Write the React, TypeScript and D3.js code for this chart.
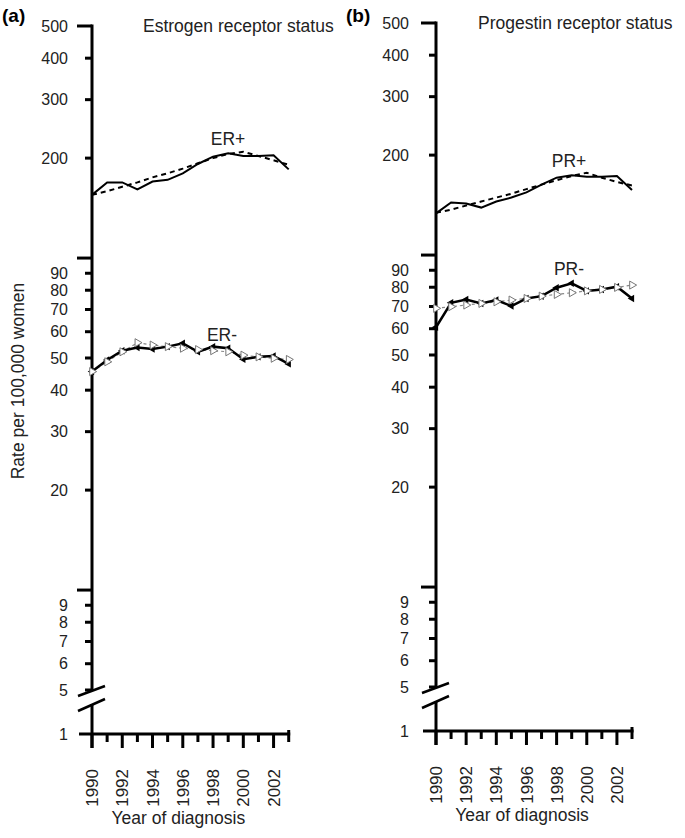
import * as d3 from "d3";

// years on the x axis
const years = [1990, 1991, 1992, 1993, 1994, 1995, 1996, 1997, 1998, 1999, 2000, 2001, 2002, 2003];
const yearLabels = ["1990", "1992", "1994", "1996", "1998", "2000", "2002"];

// y ticks (log scale, broken below 5)
const yTicks = [500, 400, 300, 200, 100, 90, 80, 70, 60, 50, 40, 30, 20, 10, 9, 8, 7, 6, 5];
const yTickLabels = ["500", "400", "300", "200", "", "90", "80", "70", "60", "50", "40", "30", "20", "", "9", "8", "7", "6", "5"];
const majorTicks = [500, 100, 10];

// (a) estrogen receptor status
const erPos = [155, 169, 169, 161, 170, 172, 180, 192, 202, 207, 203, 203, 204, 185];
const erPosFit = [155, 159, 164, 169, 175, 180, 186, 193, 200, 206, 209, 203, 197, 191];
const erNeg = [45.5, 49.3, 52.6, 53.8, 53.2, 54.1, 55.4, 52.2, 54.1, 53.5, 49.6, 50.4, 50.7, 48.0];
const erNegFit = [45.5, 48.7, 52.2, 55.6, 54.7, 54.1, 53.5, 53.0, 52.6, 52.2, 51.0, 50.4, 49.9, 49.5];

// (b) progestin receptor status
const prPos = [133.5, 144, 143, 139, 145, 149, 154.5, 163, 171, 174, 172, 172, 173, 157];
const prPosFit = [134, 137, 141, 145, 149, 153, 158, 163, 168, 173, 177, 171, 166, 162];
const prNeg = [60.6, 71.8, 73.5, 71.5, 73.2, 70.2, 74, 75.2, 79.7, 82.2, 78, 78.8, 80.3, 74];
const prNegFit = [69.1, 69.9, 70.7, 71.5, 72.3, 73.2, 74, 75.2, 76.1, 77, 78, 78.8, 79.9, 81.2];

const font = "'Liberation Sans', Arial, Helvetica, sans-serif";
const fs = 17.5; // titles, labels
const tickFs = 16; // y tick labels
const yearFs = 17;

type PanelProps = {
  tag: string;
  title: string;
  titleX: number;
  x0: number;
  x1: number;
  y500: number;
  yBase: number;
  pos: number[];
  posFit: number[];
  neg: number[];
  negFit: number[];
  posLabel: string;
  negLabel: string;
  posLabelPos: [number, number];
  negLabelPos: [number, number];
  labelGap: number;
};

const Panel = (p: PanelProps) => {
  const x = d3.scaleLinear().domain([1990, 2003]).range([p.x0, p.x1]);
  const y = d3.scaleLog().domain([5, 500]).range([p.y500 + 664, p.y500]);
  const line = d3.line<number>().x((d, i) => x(years[i])).y((d) => y(d));
  const triLeft = d3.symbol(d3.symbolTriangle, 24)();
  const triRight = d3.symbol(d3.symbolTriangle, 28)();
  const y5 = y(5);
  const ax = p.x0;

  return (
    <g>
      <text x={p.tag === "(a)" ? 2 : 346} y={22} fontSize={19} fontWeight="bold" fontFamily={font}>{p.tag}</text>
      <text x={p.titleX} y={p.y500 + 6} fontSize={fs} fontFamily={font} fill="#222">{p.title}</text>

      {/* y axis, with break */}
      <line x1={ax} x2={ax} y1={p.y500 - 1.5} y2={y5 + 1} stroke="#000" strokeWidth={3} />
      <line x1={ax} x2={ax} y1={y5 + 14} y2={p.yBase + 14} stroke="#000" strokeWidth={3} />
      <line x1={ax - 14} x2={ax + 13} y1={y5 + 6} y2={y5 - 4} stroke="#000" strokeWidth={2.5} />
      <line x1={ax - 14} x2={ax + 13} y1={y5 + 21} y2={y5 + 9} stroke="#000" strokeWidth={2.5} />

      {yTicks.map((t, i) => (
        <g key={t}>
          <line x1={ax - (majorTicks.includes(t) ? 15 : 7)} x2={ax} y1={y(t)} y2={y(t)} stroke="#000" strokeWidth={3} />
          {yTickLabels[i] && (
            <text x={ax - p.labelGap} y={y(t)} dy="0.36em" textAnchor="end" fontSize={tickFs} fontFamily={font} fill="#222">
              {yTickLabels[i]}
            </text>
          )}
        </g>
      ))}

      {/* x axis at value 1 */}
      <line x1={ax - 13} x2={x(2003) + 1.5} y1={p.yBase} y2={p.yBase} stroke="#000" strokeWidth={3} />
      <text x={ax - p.labelGap} y={p.yBase} dy="0.36em" textAnchor="end" fontSize={tickFs} fontFamily={font} fill="#222">1</text>
      {years.map((yr, i) => (
        <line key={yr} x1={x(yr)} x2={x(yr)} y1={i === years.length - 1 ? p.yBase - 4 : p.yBase}
          y2={p.yBase + (yr % 2 === 0 ? 14 : 8)} stroke="#000" strokeWidth={3} />
      ))}
      {yearLabels.map((lb) => (
        <text key={lb} transform={`translate(${x(+lb)},${p.yBase + 35}) rotate(-90)`} dy="0.36em" textAnchor="end"
          fontSize={yearFs} fontFamily={font} fill="#222">{lb}</text>
      ))}
      <text x={(p.x0 + p.x1) / 2 - 12} y={p.yBase + 90} textAnchor="middle" fontSize={fs} fontFamily={font} fill="#222">
        Year of diagnosis
      </text>

      {/* positive series */}
      <path d={line(p.posFit) ?? ""} fill="none" stroke="#000" strokeWidth={2} strokeDasharray="5,4" />
      <path d={line(p.pos) ?? ""} fill="none" stroke="#000" strokeWidth={2} />
      <text x={p.posLabelPos[0]} y={p.posLabelPos[1]} textAnchor="middle" fontSize={fs} fontFamily={font} fill="#222">{p.posLabel}</text>

      {/* negative series */}
      <path d={line(p.negFit) ?? ""} fill="none" stroke="#888" strokeWidth={1.2} strokeDasharray="3,3" />
      <path d={line(p.neg) ?? ""} fill="none" stroke="#000" strokeWidth={2.5} />
      {p.neg.map((v, i) => (
        <path key={"n" + i} d={triLeft ?? ""} transform={`translate(${x(years[i])},${y(v)}) rotate(-90)`} fill="#000" />
      ))}
      {p.negFit.map((v, i) => (
        <path key={"f" + i} d={triRight ?? ""} transform={`translate(${x(years[i])},${y(v)}) rotate(90)`}
          fill="#fff" stroke="#777" strokeWidth={1} />
      ))}
      <text x={p.negLabelPos[0]} y={p.negLabelPos[1]} textAnchor="middle" fontSize={fs} fontFamily={font} fill="#222">{p.negLabel}</text>
    </g>
  );
};

export default function App() {
  return (
    <svg width={685} height={838} style={{ position: "absolute", left: 0, top: 0, background: "#fff" }}>
      <rect width={685} height={838} fill="#fff" />
      <Panel tag="(a)" title="Estrogen receptor status" titleX={143} x0={92} x1={288.7} y500={26} yBase={734}
        pos={erPos} posFit={erPosFit} neg={erNeg} negFit={erNegFit} posLabel="ER+" negLabel="ER-"
        posLabelPos={[228, 145]} negLabelPos={[222, 341]} labelGap={24} />
      <Panel tag="(b)" title="Progestin receptor status" titleX={478} x0={436} x1={632} y500={23} yBase={731}
        pos={prPos} posFit={prPosFit} neg={prNeg} negFit={prNegFit} posLabel="PR+" negLabel="PR-"
        posLabelPos={[569, 167]} negLabelPos={[569, 275]} labelGap={27} />
      <text transform="translate(18,381) rotate(-90)" dy="0.36em" textAnchor="middle" fontSize={fs} fontFamily={font} fill="#222">
        Rate per 100,000 women
      </text>
    </svg>
  );
}
